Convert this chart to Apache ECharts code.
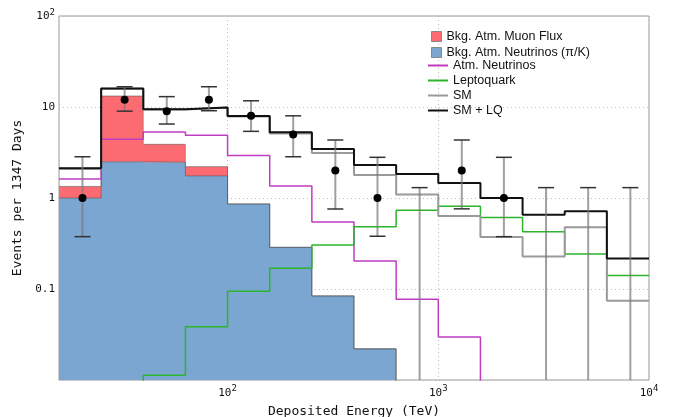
<!DOCTYPE html>
<html><head><meta charset="utf-8">
<script src="https://cdn.jsdelivr.net/npm/echarts@6/dist/echarts.min.js"></script>
<style>html,body{margin:0;padding:0;background:#fff}#c{width:680px;height:417px}</style>
</head><body><div id="c"></div>
<script>
// Bin edges in TeV (0.2 decade bins)
const binEdges = [15.85, 25.12, 39.81, 63.10, 100, 158.5, 251.2, 398.1, 631.0, 1000, 1585, 2512, 3981, 6310, 10000];
// Stacked backgrounds
const atmNuPiK = [1.0, 2.5, 2.47, 1.75, 0.86, 0.287, 0.084, 0.022, 0, 0, 0, 0, 0, 0];
const muonFlux = [0.34, 10.7, 1.42, 0.46, 0, 0, 0, 0, 0, 0, 0, 0, 0, 0];
// Step lines
const atmNu      = [1.62, 4.42, 5.31, 4.89, 2.94, 1.355, 0.545, 0.203, 0.077, 0.0297, 0.004, 0.002, 0.001, 0.0005];
const leptoquark = [0.002, 0.005, 0.0113, 0.0385, 0.0944, 0.169, 0.305, 0.484, 0.733, 0.81, 0.61, 0.425, 0.242, 0.141];
const sm         = [2.1, 15.9, 9.4, 9.85, 7.85, 5.1, 3.12, 1.79, 1.09, 0.635, 0.372, 0.227, 0.476, 0.0744];
const smLQ       = [2.12, 16.0, 9.43, 9.9, 7.96, 5.27, 3.45, 2.3, 1.83, 1.46, 1.0, 0.656, 0.714, 0.217];
// Observed data with error bars (0 = no lower bound)
const dataCounts = [1, 12, 9, 12, 8, 5, 2, 1, 0, 2, 1, 0, 0, 0];
const errHigh    = [2.84, 16.7, 13.0, 16.7, 11.7, 8.0, 4.34, 2.8, 1.3, 4.34, 2.8, 1.3, 1.3, 1.3];
const errLow     = [0.376, 9.0, 6.5, 9.1, 5.4, 2.84, 0.757, 0.38, 0, 0.76, 0.376, 0, 0, 0];

const nBins = binEdges.length - 1;
const centers = [];
for (let i = 0; i < nBins; i++) centers.push((binEdges[i] + binEdges[i+1]) / 2);

function stepData(vals) {
  const d = vals.map((v, i) => [binEdges[i], v]);
  d.push([binEdges[nBins], vals[nBins - 1]]);
  return d;
}
// outline of stacked histogram (empty bins drawn below the axis, clipped)
function outlineData(vals) {
  return stepData(vals.map(v => (v > 0 ? v : 1e-4)));
}

const blueData = [], redData = [];
const stackTop = [];
for (let i = 0; i < nBins; i++) {
  stackTop.push(atmNuPiK[i] + muonFlux[i]);
  if (atmNuPiK[i] > 0) blueData.push([binEdges[i], binEdges[i+1], atmNuPiK[i]]);
  if (muonFlux[i] > 0) redData.push([binEdges[i], binEdges[i+1], atmNuPiK[i], atmNuPiK[i] + muonFlux[i]]);
}
const errData = [], dotData = [];
for (let i = 0; i < nBins; i++) {
  errData.push([centers[i], errHigh[i], errLow[i]]);
  if (dataCounts[i] > 0) dotData.push([centers[i], dataCounts[i]]);
}

const chart = echarts.init(document.getElementById('c'));
const mono = 'DejaVu Sans Mono';
const sans = 'Liberation Sans';

function barRender(hasBase) {
  return function (params, api) {
    const cs = params.coordSys;
    const lo = api.value(0), hi = api.value(1);
    let top, baseY;
    if (hasBase) { top = api.value(3); baseY = api.coord([lo, api.value(2)])[1]; }
    else { top = api.value(2); baseY = cs.y + cs.height; }
    const p = api.coord([lo, top]);
    const q = api.coord([hi, top]);
    const x0 = Math.round(p[0]), x1 = Math.round(q[0]);
    return {
      type: 'rect',
      shape: { x: x0, y: p[1], width: x1 - x0, height: baseY - p[1] },
      style: { fill: api.visual('color') }
    };
  };
}
const outlineStyle = { color: 'rgba(80,80,80,0.55)', width: 1 };

const option = {
  animation: false,
  backgroundColor: '#fff',
  grid: { left: 59, top: 16, width: 590, height: 364, show: true, borderColor: '#9a9a9a', borderWidth: 1,
          backgroundColor: 'transparent', containLabel: false, outerBoundsMode: 'none' },
  xAxis: {
    type: 'log', logBase: 10, min: 15.849, max: 10000,
    name: 'Deposited Energy (TeV)', nameLocation: 'middle', nameGap: 25,
    nameTextStyle: { fontFamily: mono, fontSize: 13, color: '#111' },
    axisLine: { show: false }, axisTick: { show: false },
    splitLine: { show: true, lineStyle: { color: '#bbb', type: [1, 3], width: 1 } },
    axisLabel: {
      margin: 4, color: '#111',
      formatter: function (v) {
        const e = Math.round(Math.log10(v));
        if (Math.abs(Math.log10(v) - e) > 0.01) return '';
        return '{b|10}{s|' + e + '}';
      },
      rich: { b: { fontFamily: mono, fontSize: 11, color: '#111', verticalAlign: 'bottom' },
              s: { fontFamily: mono, fontSize: 9, color: '#111', verticalAlign: 'top', padding: [0,0,6,0] } }
    }
  },
  yAxis: {
    type: 'log', logBase: 10, min: 0.01, max: 100,
    name: 'Events per 1347 Days', nameLocation: 'middle', nameGap: 30,
    nameTextStyle: { fontFamily: mono, fontSize: 13, color: '#111' },
    axisLine: { show: false }, axisTick: { show: false },
    splitLine: { show: true, lineStyle: { color: '#bbb', type: [1, 3], width: 1 } },
    axisLabel: {
      margin: 4, color: '#111',
      formatter: function (v) {
        const e = Math.round(Math.log10(v));
        if (e === 2) return '{b|10}{s|2}';
        if (e === 1) return '{b|10}';
        if (e === 0) return '{b|1}';
        if (e === -1) return '{b|0.1}';
        return '';
      },
      rich: { b: { fontFamily: mono, fontSize: 11, color: '#111' },
              s: { fontFamily: mono, fontSize: 9, color: '#111', padding: [0,0,6,0] } }
    }
  },
  legend: [
    {
      left: 426, top: 25, orient: 'vertical', itemWidth: 10, itemHeight: 10, itemGap: 3,
      textStyle: { fontFamily: sans, fontSize: 12.5, color: '#111', lineHeight: 12 },
      itemStyle: { borderColor: '#888', borderWidth: 1 },
      selectedMode: false,
      data: [{ name: 'Bkg. Atm. Muon Flux', icon: 'rect' }, { name: 'Bkg. Atm. Neutrinos (\u03c0/K)', icon: 'rect' }]
    },
    {
      left: 423, top: 54, orient: 'vertical', itemWidth: 20, itemHeight: 2, itemGap: 2,
      textStyle: { fontFamily: sans, fontSize: 12.5, color: '#111', lineHeight: 12 },
      selectedMode: false,
      data: [{ name: 'Atm. Neutrinos', icon: 'rect' }, { name: 'Leptoquark', icon: 'rect' }, { name: 'SM', icon: 'rect' }, { name: 'SM + LQ', icon: 'rect' }]
    }
  ],
  series: [
    { name: 'Bkg. Atm. Neutrinos (\u03c0/K)', type: 'custom', data: blueData, encode: { x: [0, 1], y: [2] },
      itemStyle: { color: '#7aa6d1' }, renderItem: barRender(false), z: 1 },
    { name: 'Bkg. Atm. Muon Flux', type: 'custom', data: redData, encode: { x: [0, 1], y: [3] },
      itemStyle: { color: '#fd6b72' }, renderItem: barRender(true), z: 1 },
    { name: 'blueOutline', type: 'line', step: 'end', data: outlineData(atmNuPiK), symbol: 'none', clip: true,
      lineStyle: outlineStyle, itemStyle: { color: outlineStyle.color }, z: 2, silent: true },
    { name: 'redOutline', type: 'line', step: 'end', data: outlineData(stackTop), symbol: 'none', clip: true,
      lineStyle: outlineStyle, itemStyle: { color: outlineStyle.color }, z: 2, silent: true },
    { name: 'Atm. Neutrinos', type: 'line', step: 'end', data: stepData(atmNu), symbol: 'none', clip: true,
      itemStyle: { color: '#c03cc0' }, lineStyle: { color: '#c03cc0', width: 1.5 }, z: 3 },
    { name: 'Leptoquark', type: 'line', step: 'end', data: stepData(leptoquark), symbol: 'none', clip: true,
      itemStyle: { color: '#2db42d' }, lineStyle: { color: '#2db42d', width: 1.5 }, z: 3 },
    { name: 'SM', type: 'line', step: 'end', data: stepData(sm), symbol: 'none', clip: true,
      itemStyle: { color: '#9a9a9a' }, lineStyle: { color: '#9a9a9a', width: 2 }, z: 3 },
    { name: 'SM + LQ', type: 'line', step: 'end', data: stepData(smLQ), symbol: 'none', clip: true,
      itemStyle: { color: '#111' }, lineStyle: { color: '#111', width: 2 }, z: 4 },
    { name: 'errors', type: 'custom', data: errData, encode: { x: [0], y: [1] }, z: 5,
      renderItem: function (params, api) {
        const cs = params.coordSys;
        const x = api.value(0), hiV = api.value(1), loV = api.value(2);
        const top = api.coord([x, hiV]);
        const botY = loV > 0 ? api.coord([x, loV])[1] : cs.y + cs.height;
        const w = 8;
        const children = [
          { type: 'line', shape: { x1: top[0], y1: top[1], x2: top[0], y2: botY }, style: { stroke: 'rgba(120,120,120,0.7)', lineWidth: 2 } },
          { type: 'line', shape: { x1: top[0] - w, y1: top[1], x2: top[0] + w, y2: top[1] }, style: { stroke: '#333', lineWidth: 1.5 } }
        ];
        if (loV > 0) children.push({ type: 'line', shape: { x1: top[0] - w, y1: botY, x2: top[0] + w, y2: botY }, style: { stroke: '#333', lineWidth: 1.5 } });
        return { type: 'group', children: children };
      } },
    { name: 'Data', type: 'scatter', data: dotData, symbol: 'circle', symbolSize: 8,
      itemStyle: { color: '#000', opacity: 1 }, z: 6 }
  ]
};
chart.setOption(option);
</script>
</body></html>
